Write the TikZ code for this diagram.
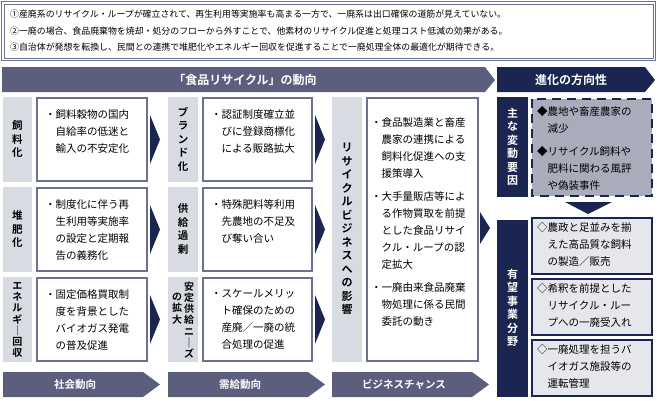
\documentclass[tikz,border=0pt]{standalone}
\usepackage{fontspec}
\setmainfont{Noto Sans CJK JP}[BoldFont={Noto Sans CJK JP Bold}]
\usetikzlibrary{calc}
\definecolor{navy}{HTML}{1B2551}
\definecolor{slate}{HTML}{5B5F7D}
\definecolor{strip}{HTML}{D9DBE2}
\definecolor{frame}{HTML}{6C7191}
\definecolor{dash}{HTML}{A9ACBB}
\definecolor{pale}{HTML}{E6E7EC}
\tikzset{label/.style={fill=strip, draw=none}}
\tikzset{content/.style={fill=white, draw=frame, line width=2.2pt}}
\tikzset{banner/.style={fill=slate, draw=none}}
\tikzset{vtext/.style={font=\bfseries\fontsize{10.5}{13.5}\selectfont, align=center, inner sep=0pt}}
\tikzset{vtight/.style={vtext, font=\bfseries\fontsize{10}{11.2}\selectfont}}
\tikzset{btext/.style={font=\fontsize{10.5}{17}\selectfont, align=left, anchor=north west, inner sep=0pt}}
\tikzset{chev/.style={fill=navy, draw=none}}
\newcommand{\ind}{\hspace*{1em}}

\begin{document}
\begin{tikzpicture}[x=1pt,y=-1pt]
\useasboundingbox (0,0) rectangle (657,400);

% summary box
\draw[frame, line width=0.8pt] (1.5,1.5) rectangle (655.5,60.5);
\draw[frame, line width=0.8pt] (4,4) rectangle (653,58);
\node[anchor=west, inner sep=0pt, font=\fontsize{8.9}{10}\selectfont] (s1) at (10,14.5) {①産廃系のリサイクル・ループが確立されて、再生利用等実施率も高まる一方で、一廃系は出口確保の道筋が見えていない。};
\node[anchor=west, inner sep=0pt, font=\fontsize{8.9}{10}\selectfont] (s2) at (10,31) {②一廃の場合、食品廃棄物を焼却・処分のフローから外すことで、他素材のリサイクル促進と処理コスト低減の効果がある。};
\node[anchor=west, inner sep=0pt, font=\fontsize{8.9}{10}\selectfont] (s3) at (10,47.5) {③自治体が発想を転換し、民間との連携で堆肥化やエネルギー回収を促進することで一廃処理全体の最適化が期待できる。};

% header banners
\fill[banner] (2,67) -- (485,67) -- (495,80) -- (485,92) -- (2,92) -- cycle;
\node[text=white, font=\bfseries\fontsize{12}{14}\selectfont] (trend) at (245,80) {「食品リサイクル」の動向};
\fill[navy] (497,67) -- (645,67) -- (655,80) -- (645,92) -- (497,92) -- cycle;
\node[text=white, font=\bfseries\fontsize{12}{14}\selectfont] (dir) at (571,80) {進化の方向性};

% column 1 / column 2
\foreach \y/\h in {97/85,187/85,277/85}{
  \fill[label] (3,\y) rectangle (32,\y+\h);
  \draw[content] (37,\y+1) rectangle (147,\y+\h-1);
  \fill[label] (168,\y) rectangle (198,\y+\h);
  \draw[content] (203,\y+1) rectangle (312,\y+\h-1);
  \fill[chev] (150,\y+18) -- (160,\y+\h/2) -- (150,\y+\h-18) -- cycle;
  \fill[chev] (315,\y+18) -- (325,\y+\h/2) -- (315,\y+\h-18) -- cycle;
}
\node[vtext] (feed) at (17.5,139) {飼\\料\\化};
\node[vtext] (compost) at (17.5,229) {堆\\肥\\化};
\node[vtight] (energy) at (17.5,320) {エ\\ネ\\ル\\ギ\\｜\\回\\収};
\node[vtext] (brand) at (183,139) {ブ\\ラ\\ン\\ド\\化};
\node[vtext] (surplus) at (183,229) {供\\給\\過\\剰};
\node[vtight] (stable) at (189,320) {安\\定\\供\\給\\ニ\\｜\\ズ};
\node[vtight, anchor=north] (stable2) at (177,293) {の\\拡\\大};

\node[btext] (c11) at (45,109) {・飼料穀物の国内\\\ind 自給率の低迷と\\\ind 輸入の不安定化};
\node[btext] (c12) at (45,199) {・制度化に伴う再\\\ind 生利用等実施率\\\ind の設定と定期報\\\ind 告の義務化};
\node[btext] (c13) at (45,289) {・固定価格買取制\\\ind 度を背景とした\\\ind バイオガス発電\\\ind の普及促進};
\node[btext] (c21) at (211,109) {・認証制度確立並\\\ind びに登録商標化\\\ind による販路拡大};
\node[btext] (c22) at (211,199) {・特殊肥料等利用\\\ind 先農地の不足及\\\ind び奪い合い};
\node[btext] (c23) at (211,289) {・スケールメリッ\\\ind ト確保のための\\\ind 産廃／一廃の統\\\ind 合処理の促進};

% column 3
\fill[label] (332,97) rectangle (362,362);
\node[vtext, font=\bfseries\fontsize{11}{13.5}\selectfont] (impact) at (347,229) {リ\\サ\\イ\\ク\\ル\\ビ\\ジ\\ネ\\ス\\へ\\の\\影\\響};
\draw[content] (367,98) rectangle (478,361);
\node[btext] (c3) at (371,117) {・食品製造業と畜産\\\ind 農家の連携による\\\ind 飼料化促進への支\\\ind 援策導入\\[6pt]・大手量販店等によ\\\ind る作物買取を前提\\\ind とした食品リサイ\\\ind クル・ループの認\\\ind 定拡大\\[6pt]・一廃由来食品廃棄\\\ind 物処理に係る民間\\\ind 委託の動き};
\fill[chev] (480,212) -- (490,228) -- (480,244) -- cycle;

% right side
\fill[navy] (497,97) rectangle (528,197);
\node[vtext, text=white, font=\bfseries\fontsize{11}{13.5}\selectfont] (factor) at (512.5,147) {主\\な\\変\\動\\要\\因};
\draw[fill=dash, draw=navy, line width=2.2pt, dash pattern=on 9pt off 6pt] (532,99) rectangle (652,196);
\node[btext] (f1) at (537,106) {◆農地や畜産農家の\\\ind 減少\\[6pt]◆リサイクル飼料や\\\ind 肥料に関わる風評\\\ind や偽装事件};
\fill[chev] (565,202) -- (612,202) -- (588,214) -- cycle;
\fill[navy] (497,220) rectangle (528,397);
\node[vtext, text=white, font=\bfseries\fontsize{11}{13.5}\selectfont] (field) at (512.5,308) {有\\望\\事\\業\\分\\野};
\foreach \y/\h in {217/58,278/58,339/58}{
  \draw[fill=pale, draw=navy, line width=2.2pt] (532,\y+1) rectangle (652,\y+\h-1);
}
\node[btext] (p1) at (537,222) {◇農政と足並みを揃\\\ind えた高品質な飼料\\\ind の製造／販売};
\node[btext] (p2) at (537,283) {◇希釈を前提とした\\\ind リサイクル・ルー\\\ind プへの一廃受入れ};
\node[btext] (p3) at (537,344) {◇一廃処理を担うバ\\\ind イオガス施設等の\\\ind 運転管理};

% bottom banners
\foreach \x/\t/\n in {3/社会動向/social,168/需給動向/supply,332/ビジネスチャンス/chance}{
  \fill[banner] (\x,372) -- (\x+140,372) -- (\x+157,384.5) -- (\x+140,397) -- (\x,397) -- cycle;
  \node[text=white, font=\bfseries\fontsize{10.5}{12}\selectfont] (\n) at (\x+72,384.5) {\t};
}
\end{tikzpicture}
\end{document}
